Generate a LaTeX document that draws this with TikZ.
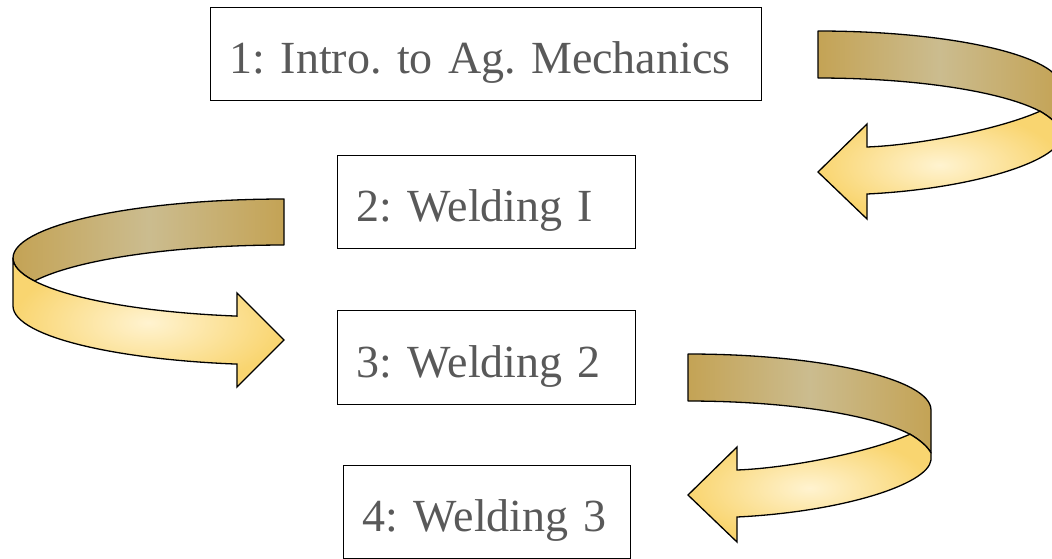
\documentclass[tikz,border=0pt]{standalone}
\usepackage{fontspec}
\setmainfont{Liberation Serif}
\definecolor{txtgray}{HTML}{595959}
\definecolor{backA}{HTML}{C4A355}
\definecolor{backB}{HTML}{CBBC8F}
\definecolor{frontIn}{HTML}{FFF3D0}
\definecolor{frontOut}{HTML}{F9D570}
\tikzset{
  box/.style={draw=black, line width=1.4pt, anchor=north west, inner xsep=19pt, inner ysep=0pt,
    align=left, font=\fontsize{46}{50}\selectfont\frenchspacing, text=txtgray,
    text height=39pt, text depth=0pt},
  backpart/.style={draw=black, line width=1.3pt, line join=round, left color=backA, right color=backA, middle color=backB},
  frontpart/.style={draw=black, line width=1.3pt, line join=miter, inner color=frontIn, outer color=frontOut},
}
\newcommand\rightloop{%
  \draw[backpart] (688,354) .. controls (822.2,354) and (931,379.1) .. (931,410) -- (931,453)
    .. controls (928,447) and (920,440) .. (910,434.2)
    -- plot[domain=24:90, samples=25] ({688+243*cos(\x)},{457-56*sin(\x)}) -- cycle;
  \draw[frontpart] (910,434.2) .. controls (920,440) and (928,447) .. (931,453) -- (931,460)
    .. controls (928,485) and (840,512) .. (737,517) -- (737,542) -- (688,495) -- (737,447) -- (737,470)
    .. controls (790,468) and (870,452) .. (910,434.2) -- cycle;
}
\begin{document}
\begin{tikzpicture}[x=1pt,y=-1pt]
\useasboundingbox (0,0) rectangle (1052,558);
\clip (0,0) rectangle (1052,558);
% boxes
\node[box, minimum width=551pt, minimum height=93pt, text width=513pt] (b1) at (210,7) {\mbox{1: Intro. to Ag. Mechanics}};
\node[box, minimum width=298pt, minimum height=93pt, text width=260pt] (b2) at (337,155) {\mbox{2: Welding I}};
\node[box, minimum width=298pt, minimum height=94pt, text width=260pt] (b3) at (337,310) {\mbox{3: Welding 2}};
\node[box, minimum width=287pt, minimum height=93pt, text width=249pt] (b4) at (343,465) {\mbox{4: Welding 3}};
% arrow 1 (top right)
\begin{scope}[shift={(130,-323)}]
  \rightloop
\end{scope}
% arrow 3 (bottom right)
\rightloop
% arrow 2 (left)
\draw[backpart] plot[domain=90:180, samples=30] ({284+271*cos(\x)},{258-59*sin(\x)})
  -- plot[domain=180:157.05, samples=10] ({284+271*cos(\x)},{258+59*sin(\x)})
  -- plot[domain=157.05:90, samples=30] ({284+271*cos(\x)},{304-59*sin(\x)}) -- cycle;
\draw[frontpart] plot[domain=180:100, samples=30] ({284+271*cos(\x)},{258+59*sin(\x)})
  -- (237,293) -- (284,340) -- (237,387)
  -- plot[domain=100:180, samples=30] ({284+271*cos(\x)},{306+59*sin(\x)}) -- cycle;
\end{tikzpicture}
\end{document}
